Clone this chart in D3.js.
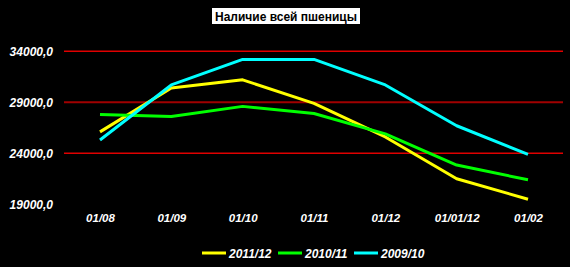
<!DOCTYPE html>
<html><head><meta charset="utf-8">
<script src="https://cdn.jsdelivr.net/npm/d3@7/dist/d3.min.js"></script>
<style>body{margin:0;background:#000;}svg{display:block;}</style>
</head><body>
<svg id="c" width="570" height="267"></svg>
<script>
const title = "Наличие всей пшеницы";
const categories = ["01/08","01/09","01/10","01/11","01/12","01/01/12","01/02"];
const yTicks = [19000, 24000, 29000, 34000];
const gridTicks = [24000, 29000, 34000];
const s2011 = [26100, 30400, 31200, 28900, 25600, 21500, 19500];
const s2010 = [27800, 27600, 28600, 27900, 25900, 22850, 21400];
const s2009 = [25300, 30700, 33200, 33200, 30700, 26700, 23900];
const seriesNames = ["2011/12", "2010/11", "2009/10"];
const seriesColors = ["#ffff00", "#00ff00", "#00ffff"];
const seriesData = [s2011, s2010, s2009];

const svg = d3.select("#c");
svg.append("rect").attr("width",570).attr("height",267).attr("fill","#000");
const font = "Arial, 'Liberation Sans', sans-serif";

const x = d3.scalePoint().domain(categories).range([100, 528]);
const y = d3.scaleLinear().domain([19000, 34000]).range([204.3, 51.3]);

// gridlines
const grid = svg.append("g").attr("class","grid");
gridTicks.forEach(d => {
  grid.append("line")
    .attr("x1", 64).attr("x2", 563)
    .attr("y1", y(d)).attr("y2", y(d))
    .attr("stroke", d === 29000 ? "#a00000" : "#e00000")
    .attr("stroke-width", d === 29000 ? 2 : 1.4);
});

// y axis labels
const fmt = d => d3.format(".1f")(d).replace(".", ",");
const yAxis = d3.axisLeft(y).tickValues(yTicks).tickFormat(fmt).tickSize(0).tickPadding(0);
const gy = svg.append("g").attr("transform","translate(53,0)").call(yAxis);
gy.select(".domain").remove();
gy.selectAll(".tick line").remove();
gy.selectAll("text").attr("fill","#fff").attr("font-family",font)
  .attr("font-size","12px").attr("font-weight","bold").attr("font-style","italic");

// x axis labels
const xAxis = d3.axisBottom(x).tickSize(0).tickPadding(0);
const gx = svg.append("g").attr("transform","translate(0,214)").call(xAxis);
gx.select(".domain").remove();
gx.selectAll(".tick line").remove();
gx.selectAll("text").attr("fill","#fff").attr("font-family",font)
  .attr("font-size","11.5px").attr("font-weight","bold").attr("font-style","italic");

// lines
const line = d3.line().x((d,i) => x(categories[i])).y(d => y(d));
seriesData.forEach((s, k) => {
  svg.append("path").datum(s).attr("d", line).attr("fill","none")
    .attr("stroke", seriesColors[k]).attr("stroke-width", 3)
    .attr("stroke-linejoin","round");
});

// title
const tg = svg.append("g");
tg.append("rect").attr("x",212).attr("y",8).attr("width",148).attr("height",16).attr("fill","#fff");
tg.append("text").attr("x",286).attr("y",20.5).attr("text-anchor","middle")
  .attr("font-family",font).attr("font-size","12px").attr("font-weight","bold")
  .attr("fill","#000").text(title);

// legend
const legX = [202, 278, 354];
seriesNames.forEach((n, k) => {
  svg.append("line").attr("x1", legX[k]).attr("x2", legX[k] + 24)
    .attr("y1", 253).attr("y2", 253).attr("stroke", seriesColors[k]).attr("stroke-width", 3);
  svg.append("text").attr("x", legX[k] + 27).attr("y", 257.5)
    .attr("fill","#fff").attr("font-family",font).attr("font-size","12px")
    .attr("font-weight","bold").attr("font-style","italic").text(n);
});
</script>
</body></html>
